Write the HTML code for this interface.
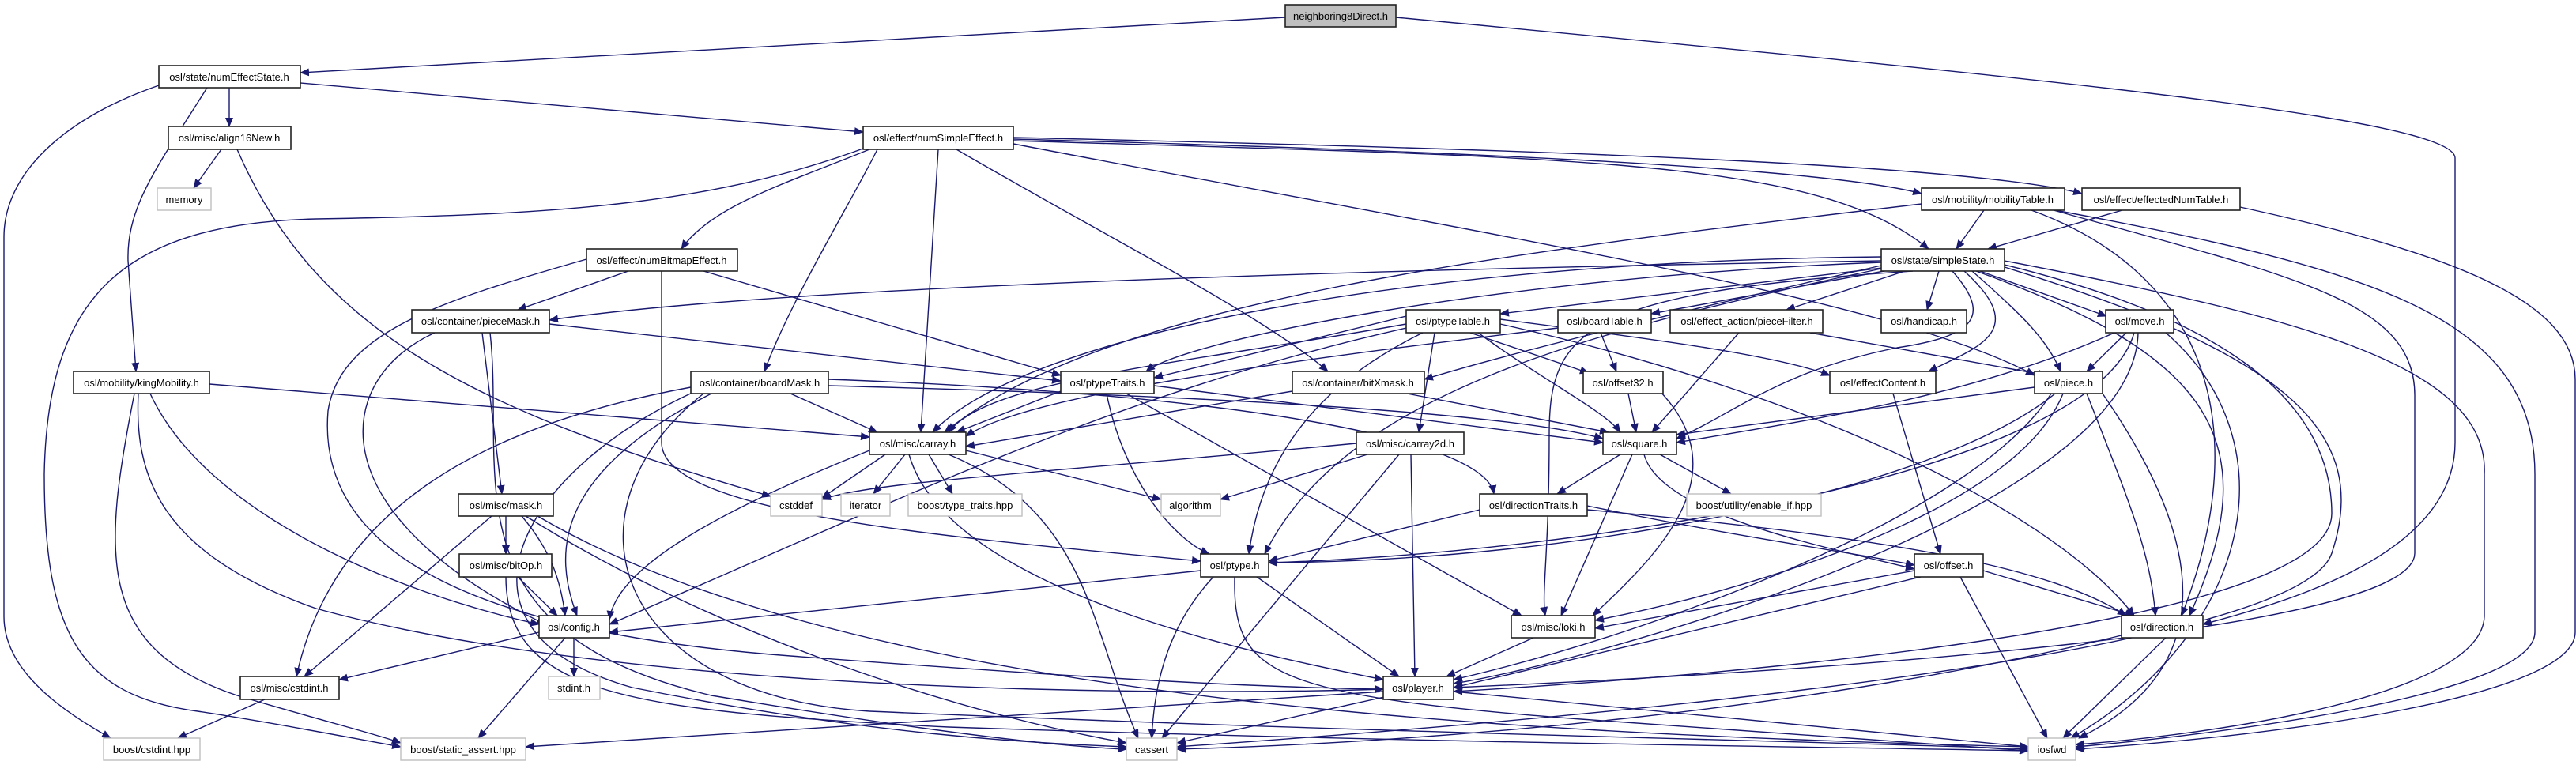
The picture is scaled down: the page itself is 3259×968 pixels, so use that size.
<!DOCTYPE html>
<html><head><meta charset="utf-8"><style>
html,body{margin:0;padding:0;background:#fff;}
svg{display:block;}
.e{fill:none;stroke:#191970;stroke-width:1.4;marker-end:url(#a);}
.n rect{fill:#fff;stroke:#222;stroke-width:1.6;}
.g rect{fill:#fff;stroke:#bfbfbf;stroke-width:1.4;}
text{font-family:"Liberation Sans",sans-serif;font-size:13px;text-anchor:middle;fill:#000;}
</style></head><body>
<svg width="3259" height="968" viewBox="0 0 3259 968" xmlns="http://www.w3.org/2000/svg">
<defs><marker id="a" markerWidth="12" markerHeight="10" refX="11" refY="5" orient="auto" markerUnits="userSpaceOnUse"><path d="M0,0 L12,5 L0,10 z" fill="#191970"/></marker></defs>
<g>
<path class="e" d="M1626,22 L380,92"/>
<path class="e" d="M1766,22 C2600,100 3106,150 3106,200 L3106,560 C3106,700 2900,760 2787,790"/>
<path class="e" d="M290,111 L290,160"/>
<path class="e" d="M262,111 C200,210 160,260 162,330 L172,470"/>
<path class="e" d="M380,105 L1092,167"/>
<path class="e" d="M201,108 C80,150 5,220 5,300 L5,780 C5,850 80,900 140,934"/>
<path class="e" d="M280,189 L245,238"/>
<path class="e" d="M300,189 C400,420 600,520 975,628"/>
<path class="e" d="M1100,189 C1000,230 900,260 862,315"/>
<path class="e" d="M1110,189 C1080,250 1000,380 967,470"/>
<path class="e" d="M1187,189 L1165,547"/>
<path class="e" d="M1210,189 C1400,300 1600,400 1680,470"/>
<path class="e" d="M1282,176 C1800,190 2300,210 2431,245"/>
<path class="e" d="M1282,174 C2000,190 2500,210 2634,245"/>
<path class="e" d="M1282,178 C2000,200 2300,200 2440,315"/>
<path class="e" d="M1282,182 C1900,300 2400,380 2574,475"/>
<path class="e" d="M1100,185 C900,260 700,272 400,277 C150,283 60,380 56,600 C56,800 100,880 250,900 C350,915 450,935 507,945"/>
<path class="e" d="M795,343 L655,392"/>
<path class="e" d="M890,343 L1342,475"/>
<path class="e" d="M837,343 L837,560 C837,650 1200,680 1519,710"/>
<path class="e" d="M742,328 C560,380 430,420 415,520 C400,700 600,800 1000,830 C1400,860 1600,870 1750,872"/>
<path class="e" d="M2510,266 L2475,315"/>
<path class="e" d="M2431,258 C1900,320 1400,380 1195,547"/>
<path class="e" d="M2570,266 C2800,350 2850,550 2760,779"/>
<path class="e" d="M2600,266 C3000,340 3207,400 3207,600 L3207,800 C3207,880 2800,930 2626,945"/>
<path class="e" d="M2598,266 C2900,350 3055,380 3055,500 L3055,700 C3055,800 2300,850 1839,870"/>
<path class="e" d="M2685,266 L2515,315"/>
<path class="e" d="M2834,262 C3100,320 3258,380 3258,480 L3258,800 C3258,880 2900,930 2626,948"/>
<path class="e" d="M2380,330 C1800,340 1000,360 695,405"/>
<path class="e" d="M2390,338 L1898,397"/>
<path class="e" d="M2400,340 L2089,397"/>
<path class="e" d="M2410,343 L2260,392"/>
<path class="e" d="M2453,343 L2438,392"/>
<path class="e" d="M2505,343 L2665,400"/>
<path class="e" d="M2485,343 C2570,420 2500,440 2440,470"/>
<path class="e" d="M2495,343 C2560,400 2590,430 2607,470"/>
<path class="e" d="M2470,343 C2520,400 2500,425 2400,440 C2250,470 2200,520 2121,555"/>
<path class="e" d="M2380,325 C1800,330 1300,420 1180,547"/>
<path class="e" d="M2380,332 C1900,350 1500,430 1450,470"/>
<path class="e" d="M2380,336 C2100,400 1900,450 1802,480"/>
<path class="e" d="M2420,343 C2000,370 1960,420 1960,550 C1960,700 1950,750 1955,779"/>
<path class="e" d="M2500,343 C2800,450 2870,560 2770,779"/>
<path class="e" d="M2536,335 C2800,400 2950,500 2950,650 C2950,800 2100,860 1839,875"/>
<path class="e" d="M2536,338 C2900,450 3000,550 2950,700 C2900,850 1700,930 1489,945"/>
<path class="e" d="M2536,330 C2900,400 3150,460 3143,600 L3143,780 C3140,880 2800,930 2626,942"/>
<path class="e" d="M2380,340 C2000,420 1700,500 1600,701"/>
<path class="e" d="M695,410 L1342,482"/>
<path class="e" d="M610,421 L635,625"/>
<path class="e" d="M550,421 C420,480 400,650 690,790"/>
<path class="e" d="M620,421 C640,600 560,800 900,880 C1200,930 1350,945 1425,948"/>
<path class="e" d="M1779,400 L1460,478"/>
<path class="e" d="M1779,410 C1500,460 1250,480 1200,547"/>
<path class="e" d="M1860,421 L2010,472"/>
<path class="e" d="M1870,421 C1950,480 2030,520 2050,547"/>
<path class="e" d="M1815,421 L1795,547"/>
<path class="e" d="M1800,421 C1700,470 1600,550 1580,701"/>
<path class="e" d="M1779,415 C1400,500 1100,650 771,790"/>
<path class="e" d="M1898,410 C2300,500 2600,650 2700,779"/>
<path class="e" d="M1898,404 C2100,430 2250,450 2315,475"/>
<path class="e" d="M2025,421 L2045,470"/>
<path class="e" d="M1971,415 C1600,460 1300,500 1222,552"/>
<path class="e" d="M2200,421 L2090,547"/>
<path class="e" d="M2290,421 L2590,475"/>
<path class="e" d="M2690,421 L2640,470"/>
<path class="e" d="M2675,421 C2500,500 2300,530 2121,560"/>
<path class="e" d="M2700,421 C2650,600 2000,700 1605,712"/>
<path class="e" d="M2705,421 C2700,650 2000,840 1839,865"/>
<path class="e" d="M2740,421 C2900,560 2850,800 2620,934"/>
<path class="e" d="M265,486 L1100,553"/>
<path class="e" d="M190,498 C260,650 500,750 682,790"/>
<path class="e" d="M175,498 C170,600 200,700 400,770 C800,880 1500,880 1750,872"/>
<path class="e" d="M170,498 C130,700 120,820 300,880 C400,910 480,930 507,940"/>
<path class="e" d="M1000,498 L1110,547"/>
<path class="e" d="M1048,488 C1500,500 1900,520 2028,555"/>
<path class="e" d="M1048,480 C1600,500 1880,560 1890,625"/>
<path class="e" d="M874,490 C600,540 420,650 375,856"/>
<path class="e" d="M900,498 C700,600 700,700 730,779"/>
<path class="e" d="M880,495 C650,600 550,800 800,870 C1100,930 1300,940 1425,945"/>
<path class="e" d="M890,498 C700,650 780,880 1100,900 C1800,930 2400,940 2566,948"/>
<path class="e" d="M1460,488 L2028,560"/>
<path class="e" d="M1400,498 C1420,600 1480,680 1530,701"/>
<path class="e" d="M1425,498 L1925,779"/>
<path class="e" d="M1342,495 L1210,547"/>
<path class="e" d="M1635,495 L1222,565"/>
<path class="e" d="M1780,498 L2035,547"/>
<path class="e" d="M2060,498 L2070,547"/>
<path class="e" d="M2100,495 C2200,600 2100,700 2015,779"/>
<path class="e" d="M2395,498 L2455,701"/>
<path class="e" d="M2574,490 L2121,550"/>
<path class="e" d="M2600,498 C2450,620 2000,710 1605,712"/>
<path class="e" d="M2595,498 C2500,650 2100,800 1839,860"/>
<path class="e" d="M2610,498 C2550,650 2200,750 2018,785"/>
<path class="e" d="M2640,498 C2700,650 2720,700 2727,779"/>
<path class="e" d="M2660,498 C2800,700 2800,850 2630,934"/>
<path class="e" d="M1120,575 L1040,630"/>
<path class="e" d="M1145,575 L1105,625"/>
<path class="e" d="M1175,575 L1205,625"/>
<path class="e" d="M1222,570 L1469,632"/>
<path class="e" d="M1200,575 C1380,650 1380,800 1440,934"/>
<path class="e" d="M1100,570 C900,650 780,720 771,784"/>
<path class="e" d="M1150,575 C1200,750 1600,830 1750,860"/>
<path class="e" d="M1716,561 C1300,600 1100,610 1040,632"/>
<path class="e" d="M1730,575 L1544,632"/>
<path class="e" d="M1785,575 L1790,856"/>
<path class="e" d="M1770,575 L1470,934"/>
<path class="e" d="M2050,575 L1970,625"/>
<path class="e" d="M2100,575 L2190,625"/>
<path class="e" d="M2065,575 L1975,779"/>
<path class="e" d="M2080,575 C2100,650 2300,690 2422,720"/>
<path class="e" d="M640,653 L640,701"/>
<path class="e" d="M660,653 C700,700 710,740 715,779"/>
<path class="e" d="M622,653 L385,856"/>
<path class="e" d="M665,653 C900,800 1200,900 1425,940"/>
<path class="e" d="M680,653 C1100,900 2000,930 2566,945"/>
<path class="e" d="M1872,645 L1605,710"/>
<path class="e" d="M2008,640 C2200,680 2350,700 2422,715"/>
<path class="e" d="M2008,645 C2400,680 2600,720 2690,779"/>
<path class="e" d="M655,730 L705,779"/>
<path class="e" d="M640,730 C640,880 800,900 1200,920 C1800,940 2300,945 2566,950"/>
<path class="e" d="M1519,722 L771,800"/>
<path class="e" d="M1590,730 L1770,856"/>
<path class="e" d="M1535,730 C1470,800 1460,880 1457,934"/>
<path class="e" d="M1562,730 C1560,850 1600,880 2000,910 C2300,930 2500,945 2566,950"/>
<path class="e" d="M2422,722 L2018,795"/>
<path class="e" d="M2430,730 L1839,870"/>
<path class="e" d="M2509,722 L2700,779"/>
<path class="e" d="M2480,730 L2590,934"/>
<path class="e" d="M682,800 L429,860"/>
<path class="e" d="M726,807 L726,856"/>
<path class="e" d="M715,807 L605,934"/>
<path class="e" d="M1940,807 L1830,856"/>
<path class="e" d="M2700,800 C2300,900 1800,940 1489,948"/>
<path class="e" d="M2740,807 L2610,934"/>
<path class="e" d="M335,885 L225,934"/>
<path class="e" d="M1760,880 L1489,940"/>
<path class="e" d="M1839,875 L2566,945"/>
<path class="e" d="M1750,875 L665,945"/>
</g>
<g class="n">
<rect x="1626" y="6" width="140" height="28" style="fill:#bfbfbf"/><text x="1696" y="25">neighboring8Direct.h</text>
<rect x="201" y="83" width="179" height="28"/><text x="290" y="102">osl/state/numEffectState.h</text>
<rect x="213" y="160" width="155" height="29"/><text x="290" y="179">osl/misc/align16New.h</text>
<rect x="1092" y="160" width="190" height="29"/><text x="1187" y="179">osl/effect/numSimpleEffect.h</text>
<rect x="2431" y="238" width="181" height="28"/><text x="2521" y="257">osl/mobility/mobilityTable.h</text>
<rect x="2634" y="238" width="200" height="28"/><text x="2734" y="257">osl/effect/effectedNumTable.h</text>
<rect x="742" y="315" width="191" height="28"/><text x="837" y="334">osl/effect/numBitmapEffect.h</text>
<rect x="2380" y="315" width="156" height="28"/><text x="2458" y="334">osl/state/simpleState.h</text>
<rect x="521" y="392" width="174" height="29"/><text x="608" y="411">osl/container/pieceMask.h</text>
<rect x="1779" y="392" width="119" height="29"/><text x="1838" y="411">osl/ptypeTable.h</text>
<rect x="1971" y="392" width="118" height="29"/><text x="2030" y="411">osl/boardTable.h</text>
<rect x="2113" y="392" width="193" height="29"/><text x="2210" y="411">osl/effect_action/pieceFilter.h</text>
<rect x="2380" y="392" width="108" height="29"/><text x="2434" y="411">osl/handicap.h</text>
<rect x="2664" y="392" width="86" height="29"/><text x="2707" y="411">osl/move.h</text>
<rect x="93" y="470" width="172" height="28"/><text x="179" y="489">osl/mobility/kingMobility.h</text>
<rect x="874" y="470" width="174" height="28"/><text x="961" y="489">osl/container/boardMask.h</text>
<rect x="1342" y="470" width="118" height="28"/><text x="1401" y="489">osl/ptypeTraits.h</text>
<rect x="1635" y="470" width="167" height="28"/><text x="1718" y="489">osl/container/bitXmask.h</text>
<rect x="2003" y="470" width="101" height="28"/><text x="2053" y="489">osl/offset32.h</text>
<rect x="2315" y="470" width="134" height="28"/><text x="2382" y="489">osl/effectContent.h</text>
<rect x="2574" y="470" width="86" height="28"/><text x="2617" y="489">osl/piece.h</text>
<rect x="1100" y="547" width="122" height="28"/><text x="1161" y="566">osl/misc/carray.h</text>
<rect x="1716" y="547" width="136" height="28"/><text x="1784" y="566">osl/misc/carray2d.h</text>
<rect x="2028" y="547" width="93" height="28"/><text x="2074" y="566">osl/square.h</text>
<rect x="580" y="625" width="120" height="28"/><text x="640" y="644">osl/misc/mask.h</text>
<rect x="1872" y="625" width="136" height="28"/><text x="1940" y="644">osl/directionTraits.h</text>
<rect x="581" y="701" width="117" height="29"/><text x="640" y="720">osl/misc/bitOp.h</text>
<rect x="1519" y="701" width="86" height="29"/><text x="1562" y="720">osl/ptype.h</text>
<rect x="2422" y="701" width="87" height="29"/><text x="2465" y="720">osl/offset.h</text>
<rect x="682" y="779" width="89" height="28"/><text x="726" y="798">osl/config.h</text>
<rect x="1912" y="779" width="106" height="28"/><text x="1965" y="798">osl/misc/loki.h</text>
<rect x="2684" y="779" width="103" height="28"/><text x="2735" y="798">osl/direction.h</text>
<rect x="304" y="856" width="125" height="29"/><text x="366" y="875">osl/misc/cstdint.h</text>
<rect x="1750" y="856" width="89" height="29"/><text x="1794" y="875">osl/player.h</text>
</g>
<g class="g">
<rect x="199" y="238" width="68" height="28"/><text x="233" y="257">memory</text>
<rect x="975" y="625" width="65" height="28"/><text x="1007" y="644">cstddef</text>
<rect x="1064" y="625" width="62" height="28"/><text x="1095" y="644">iterator</text>
<rect x="1149" y="625" width="144" height="28"/><text x="1221" y="644">boost/type_traits.hpp</text>
<rect x="1469" y="625" width="75" height="28"/><text x="1506" y="644">algorithm</text>
<rect x="2134" y="625" width="170" height="28"/><text x="2219" y="644">boost/utility/enable_if.hpp</text>
<rect x="694" y="856" width="65" height="29"/><text x="726" y="875">stdint.h</text>
<rect x="131" y="934" width="122" height="28"/><text x="192" y="953">boost/cstdint.hpp</text>
<rect x="507" y="934" width="158" height="28"/><text x="586" y="953">boost/static_assert.hpp</text>
<rect x="1425" y="934" width="64" height="28"/><text x="1457" y="953">cassert</text>
<rect x="2566" y="934" width="60" height="28"/><text x="2596" y="953">iosfwd</text>
</g>
</svg>
</body></html>
